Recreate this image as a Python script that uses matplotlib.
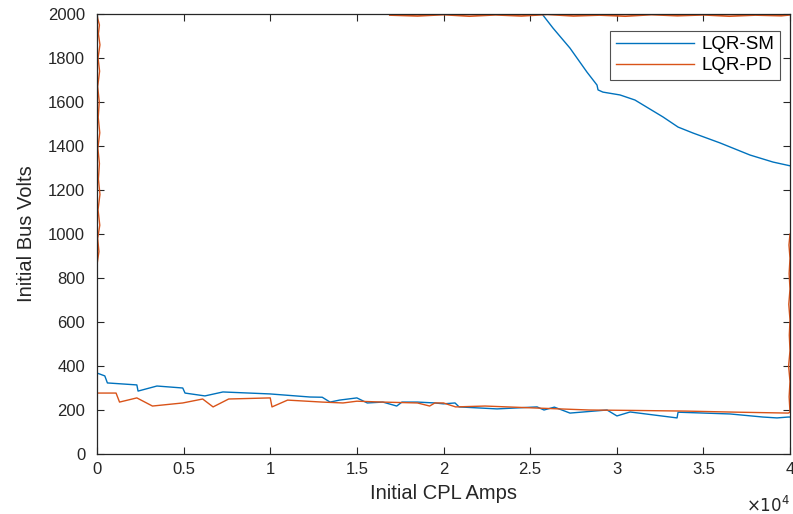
import numpy as np
import matplotlib.pyplot as plt

plt.rcParams["font.family"] = ["Liberation Sans", "DejaVu Sans"]

# LQR-SM stability boundary (lower branch and upper branch)
sm_low_x = [0, 450, 600, 2300, 2370, 3460, 4950, 5080, 6230, 7270, 9990, 12300,
            13000, 13450, 14000, 15000, 15600, 16500, 17300, 17600, 18500, 19500,
            20000, 20665, 20900, 23090, 25400, 25800, 26400, 27300, 29440, 30010,
            30770, 33480, 33540, 36540, 38440, 39250, 39890, 40000]
sm_low_y = [368, 355, 323, 314, 286, 309, 300, 277, 264, 282, 273, 259,
            258, 236, 245, 255, 232, 236, 218, 236, 236, 232,
            228, 232, 214, 205, 214, 200, 213, 186, 200, 173,
            191, 164, 190, 182, 168, 164, 168, 168]

sm_high_x = [25690, 26320, 27300, 28280, 28860, 28920, 29200, 30190, 31050,
             32670, 33540, 34400, 35960, 37690, 39020, 40000]
sm_high_y = [2000, 1936, 1845, 1736, 1677, 1655, 1645, 1632, 1609,
             1532, 1486, 1459, 1414, 1359, 1327, 1310]

# LQR-PD stability boundary pieces
pd_low_x = [0, 1100, 1300, 2300, 3200, 4950, 6100, 6700, 7600, 10000, 10100,
            11000, 13000, 14200, 15000, 16500, 18500, 19200, 19500, 20000,
            20700, 22400, 25000, 28400, 31000, 34000, 37000, 39900, 40000]
pd_low_y = [277, 277, 236, 255, 218, 232, 250, 214, 250, 255, 214,
            245, 236, 232, 240, 236, 232, 218, 232, 232,
            214, 218, 210, 200, 198, 195, 190, 186, 190]

pd_right_x = [40000, 39950, 40000, 39920, 40000, 39960, 40000, 39930, 40000,
              39950, 40000, 39940, 40000]
pd_right_y = [190, 260, 330, 400, 470, 540, 610, 680, 750, 820, 890, 950, 1000]

pd_left_x = [0, 110, 40, 160, 60, 170, 80, 140, 50, 160, 70, 130, 40, 150,
             60, 170, 80, 140, 40, 0]
pd_left_y = [860, 920, 980, 1040, 1110, 1180, 1250, 1320, 1390, 1460, 1530,
             1600, 1670, 1740, 1800, 1860, 1910, 1950, 1980, 2000]

pd_top_x = [16900, 18500, 20000, 21500, 23000, 24500, 26000, 27500, 29000,
            30500, 32000, 33500, 35000, 36500, 38000, 39500, 40000]
pd_top_y = [1995, 1991, 1997, 1990, 1996, 1991, 1998, 1991, 1995, 1990,
            1997, 1992, 1996, 1990, 1995, 1992, 1996]

blue = "#0072BD"
orange = "#D95319"
ink = "#262626"

fig = plt.figure(figsize=(7.93, 5.14), dpi=100)
ax = fig.add_axes([97 / 793, 60 / 514, 693 / 793, 440 / 514])

ax.plot(sm_low_x, sm_low_y, color=blue, lw=1.0, label="LQR-SM")
ax.plot(sm_high_x, sm_high_y, color=blue, lw=1.0)
ax.plot(pd_low_x, pd_low_y, color=orange, lw=1.0, label="LQR-PD")
ax.plot(pd_right_x, pd_right_y, color=orange, lw=1.0)
ax.plot(pd_left_x, pd_left_y, color=orange, lw=1.0)
ax.plot(pd_top_x, pd_top_y, color=orange, lw=1.2)

ax.set_xlim(0, 40000)
ax.set_ylim(0, 2000)
ax.set_xticks(np.arange(0, 40001, 5000))
ax.set_xticklabels(["0", "0.5", "1", "1.5", "2", "2.5", "3", "3.5", "4"])
ax.set_yticks(np.arange(0, 2001, 200))

ax.tick_params(direction="in", length=5, width=0.8, top=True, right=True,
               labelsize=12, colors=ink)
ax.tick_params(axis="x", pad=6)
ax.tick_params(axis="y", pad=8.5)
for s in ax.spines.values():
    s.set_linewidth(0.9)
    s.set_color(ink)

ax.set_xlabel("Initial CPL Amps", fontsize=14.5, color=ink, labelpad=5)
ax.set_ylabel("Initial Bus Volts", fontsize=14.5, color=ink, labelpad=9)
ax.text(1.0, -0.115, r"$\times10^4$", transform=ax.transAxes, ha="right",
        va="center", fontsize=12, color=ink)

leg = ax.legend(loc="upper right", bbox_to_anchor=(0.986, 0.962),
                fontsize=13.5, handlelength=4.2, handletextpad=0.4,
                fancybox=False, borderpad=0.3, labelspacing=0.2,
                borderaxespad=0.0)
leg.get_frame().set_edgecolor(ink)
leg.get_frame().set_linewidth(0.8)

fig.savefig("out.png", dpi=100)
